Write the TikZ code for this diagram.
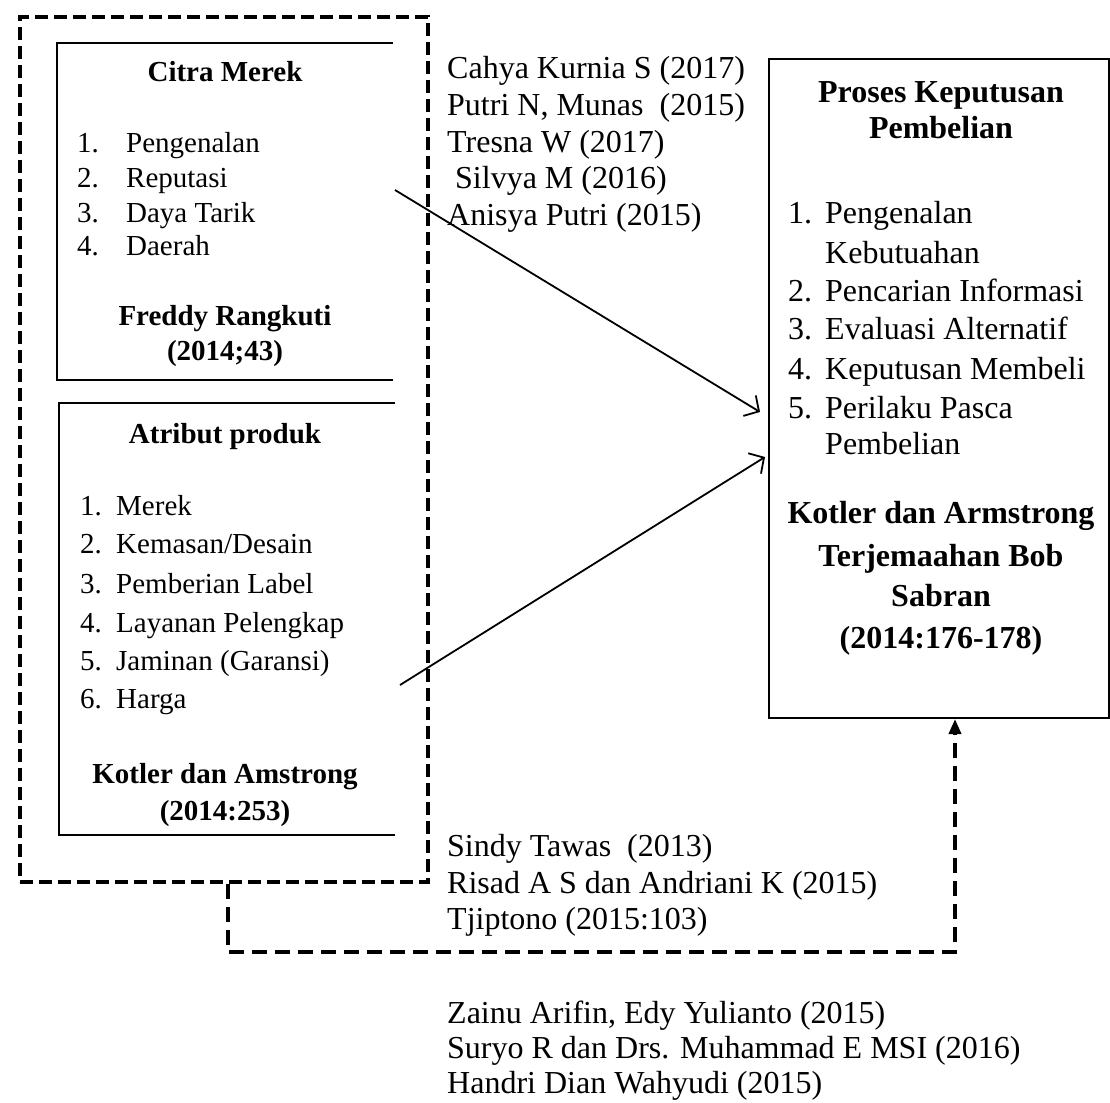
\documentclass[tikz,border=0pt]{standalone}
\usepackage{fontspec}
\setmainfont{Liberation Serif}
\usetikzlibrary{arrows.meta,calc}
\begin{document}
\begin{tikzpicture}[x=1pt,y=-1pt,
  cit/.style={anchor=base west,inner sep=0pt,font=\fontsize{32}{37}\selectfont},
  rbt/.style={anchor=base west,inner sep=0pt,font=\fontsize{32}{38}\selectfont},
  rbh/.style={anchor=base,inner sep=0pt,font=\fontsize{32}{38}\selectfont\bfseries},
  lbt/.style={anchor=base west,inner sep=0pt,font=\fontsize{29}{34}\selectfont},
  lbh/.style={anchor=base,inner sep=0pt,font=\fontsize{29}{34}\selectfont\bfseries},
  boxline/.style={line width=2pt},
  outerdash/.style={draw,line width=4pt,dash pattern=on 13pt off 6pt},
  conn/.style={line width=3.5pt,dash pattern=on 15pt off 8pt},
  arr/.style={line width=1.8pt,-{Straight Barb[length=11pt,width=24pt,line width=1.8pt]}},
]
\useasboundingbox (0,0) rectangle (1110,1102);
\fill[white] (0,0) rectangle (1110,1102);

% outer dashed group
\node[outerdash,minimum width=408pt,minimum height=865pt,anchor=north west,inner sep=0pt] (ob) at (18,15) {};

% Citra Merek box (no right edge)
\node[minimum width=336pt,minimum height=337pt,anchor=north west,inner sep=0pt,outer sep=0pt] (cm) at (57,43) {};
\draw[boxline] (cm.north east) -- (cm.north west) -- (cm.south west) -- (cm.south east);
\node[lbh] (cmt) at (225,82) {Citra Merek};
\node[lbt] (cm1) at (77,153) {\makebox[49pt][l]{1.}Pengenalan};
\node[lbt] (cm2) at (77,188) {\makebox[49pt][l]{2.}Reputasi};
\node[lbt] (cm3) at (77,222) {\makebox[49pt][l]{3.}Daya Tarik};
\node[lbt] (cm4) at (77,255) {\makebox[49pt][l]{4.}Daerah};
\node[lbh] (cms1) at (225,325) {Freddy Rangkuti};
\node[lbh] (cms2) at (225,360) {(2014;43)};

% Atribut produk box (no right edge)
\node[minimum width=336pt,minimum height=432pt,anchor=north west,inner sep=0pt,outer sep=0pt] (ap) at (59,403) {};
\draw[boxline] (ap.north east) -- (ap.north west) -- (ap.south west) -- (ap.south east);
\node[lbh] (apt) at (225,443) {Atribut produk};
\node[lbt] (ap1) at (80,515) {\makebox[36pt][l]{1.}Merek};
\node[lbt] (ap2) at (80,553) {\makebox[36pt][l]{2.}Kemasan/Desain};
\node[lbt] (ap3) at (80,593) {\makebox[36pt][l]{3.}Pemberian Label};
\node[lbt] (ap4) at (80,632) {\makebox[36pt][l]{4.}Layanan Pelengkap};
\node[lbt] (ap5) at (80,670) {\makebox[36pt][l]{5.}Jaminan (Garansi)};
\node[lbt] (ap6) at (80,708) {\makebox[36pt][l]{6.}Harga};
\node[lbh] (aps1) at (225,783) {Kotler dan Amstrong};
\node[lbh] (aps2) at (225,820) {(2014:253)};

% Proses Keputusan Pembelian box
\node[draw,boxline,minimum width=340pt,minimum height=659pt,anchor=north west,inner sep=0pt] (kp) at (768,58) {};
\node[rbh] (kpt1) at (941,103) {Proses Keputusan};
\node[rbh] (kpt2) at (941,139) {Pembelian};
\node[rbt] (kp1) at (788,223) {\makebox[37pt][l]{1.}Pengenalan};
\node[rbt] (kp1b) at (825,263) {Kebutuahan};
\node[rbt] (kp2) at (788,301) {\makebox[37pt][l]{2.}Pencarian Informasi};
\node[rbt] (kp3) at (788,339) {\makebox[37pt][l]{3.}Evaluasi Alternatif};
\node[rbt] (kp4) at (788,379) {\makebox[37pt][l]{4.}Keputusan Membeli};
\node[rbt] (kp5) at (788,418) {\makebox[37pt][l]{5.}Perilaku Pasca};
\node[rbt] (kp5b) at (825,454) {Pembelian};
\node[rbh] (kps1) at (941,523) {Kotler dan Armstrong};
\node[rbh] (kps2) at (941,566) {Terjemaahan Bob};
\node[rbh] (kps3) at (941,606) {Sabran};
\node[rbh] (kps4) at (941,648) {(2014:176-178)};

% citations
\node[cit] (c1) at (447,79) {Cahya Kurnia S (2017)};
\node[cit] (c2) at (447,116) {Putri N, Munas\ \ (2015)};
\node[cit] (c3) at (447,153) {Tresna W (2017)};
\node[cit] (c4) at (455,189) {Silvya M (2016)};
\node[cit] (c5) at (447,225) {Anisya Putri (2015)};
\node[cit] (s1) at (447,856) {Sindy Tawas\ \ (2013)};
\node[cit] (s2) at (447,893) {Risad A S dan Andriani K (2015)};
\node[cit] (s3) at (447,929) {Tjiptono (2015:103)};
\node[cit] (z1) at (447,1023) {Zainu Arifin, Edy Yulianto (2015)};
\node[cit] (z2) at (447,1058) {Suryo R dan Drs. Muhammad E MSI (2016)};
\node[cit] (z3) at (447,1093) {Handri Dian Wahyudi (2015)};

% arrows
\coordinate (a1) at (395,190);
\coordinate (a2) at (400,685);
\draw[arr] (a1) -- ($(kp.north west)+(-8,354)$);
\draw[arr] (a2) -- ($(kp.north west)+(-3,399)$);

% dashed connector
\coordinate (d2) at (228,952);
\coordinate (d3) at (955,952);
\draw[conn,-{Triangle[length=15pt,width=12pt]}] (ob.south -| d2) -- (d2) -- (d3) -- (kp.south -| d3);
\end{tikzpicture}
\end{document}
